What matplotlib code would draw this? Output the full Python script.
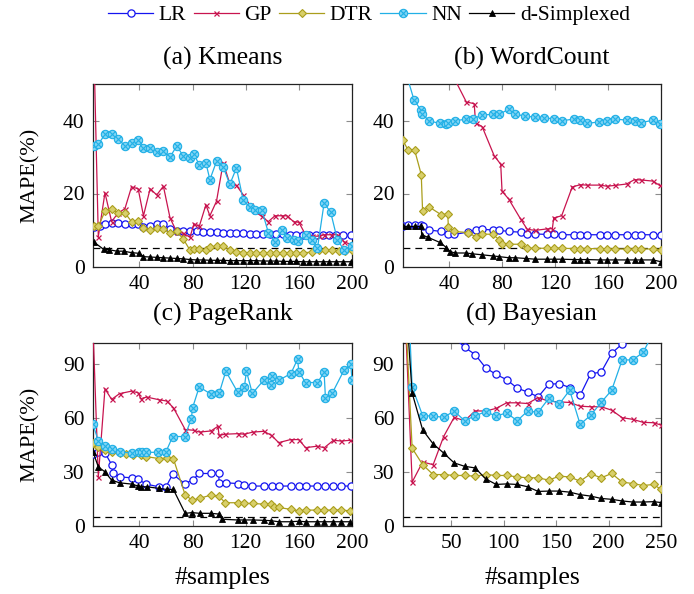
import matplotlib
matplotlib.use("Agg")
import matplotlib.pyplot as plt
from matplotlib.path import Path
import numpy as np

plt.rcParams['font.family'] = ['Liberation Serif', 'DejaVu Serif']
plt.rcParams['mathtext.fontset'] = 'stix'

# ---------------- data ----------------
series_names = ["LR", "GP", "DTR", "NN", "d-Simplexed"]
titles = ["(a) Kmeans", "(b) WordCount", "(c) PageRank", "(d) Bayesian"]

# (a) Kmeans
a_LR_x = [6, 10, 14, 19, 24, 29, 34, 39, 43, 48, 53, 58, 63, 68, 73, 78, 83, 88, 93, 98,
          103, 108, 113, 118, 123, 128, 133, 138, 143, 148, 153, 158, 163, 168, 173, 178, 183, 188, 193, 199]
a_LR_y = [10.8, 11.0, 11.7, 11.9, 11.9, 11.6, 11.6, 11.6, 10.9, 11.0, 11.6, 11.6, 10.2, 9.6, 9.6, 9.6, 9.6, 9.5, 9.4, 9.4,
          9.3, 9.3, 9.2, 9.1, 9.0, 9.0, 8.9, 8.9, 8.8, 8.8, 8.7, 8.7, 8.7, 8.7, 8.6, 8.6, 8.6, 8.6, 8.5, 8.5]
a_GP_x = [5, 9, 14, 19, 24, 29, 34, 39, 43, 48, 53, 58, 63, 68, 73, 78, 81, 85, 90, 93,
          98, 103, 108, 113, 118, 123, 127, 132, 137, 142, 147, 151, 156, 160, 165, 170, 175, 179, 184, 189, 194, 200]
a_GP_y = [70, 8.2, 20.2, 12.3, 14.7, 15.8, 21.8, 21.3, 13.9, 21.3, 19.6, 22.0, 13.3, 9.5, 9.1, 8.0, 11.7, 11.0, 16.9, 13.9,
          17.9, 28.4, 22.7, 22.2, 19.7, 16.9, 15.1, 13.7, 12.3, 13.9, 13.9, 13.9, 12.3, 12.1, 8.7, 8.3, 8.3, 8.7, 8.7, 8.7, 6.8, 5.9]
a_DTR_x = [6, 9, 14, 19, 24, 29, 34, 39, 43, 48, 53, 58, 63, 68, 73, 78, 81, 85, 90, 93,
           98, 103, 108, 113, 118, 123, 128, 133, 138, 143, 148, 153, 158, 163, 170, 175, 180, 185, 190, 195, 200]
a_DTR_y = [11.0, 11.0, 15.1, 15.7, 14.7, 14.7, 12.3, 12.6, 10.5, 10.1, 10.5, 10.3, 9.1, 9.6, 7.5, 4.5, 4.7, 4.7, 4.5, 5.3,
           5.6, 5.7, 4.4, 4.1, 3.8, 3.8, 3.8, 3.8, 3.8, 3.8, 3.8, 3.8, 3.8, 3.8, 3.9, 4.4, 4.4, 4.4, 4.3, 4.3, 4.4]
a_NN_x = [6, 9, 14, 19, 24, 29, 34, 39, 43, 48, 53, 58, 63, 68, 73, 78, 81, 85, 90, 93,
          98, 103, 108, 113, 118, 123, 127, 132, 137, 142, 147, 151, 156, 159, 165, 170, 174, 179, 184, 189, 194, 200]
a_NN_y = [33.0, 33.5, 36.2, 36.4, 35.0, 33.0, 33.9, 34.7, 32.4, 32.5, 31.5, 31.7, 30.0, 33.0, 30.3, 29.8, 30.7, 27.9, 28.4, 23.8,
          28.8, 27.3, 22.5, 27.0, 18.3, 16.2, 15.6, 15.6, 9.3, 6.7, 9.9, 7.8, 7.3, 6.9, 8.7, 7.3, 5.0, 17.4, 14.8, 7.3, 4.5, 5.6]
a_DS_x = [6, 13, 17, 23, 28, 34, 40, 43, 48, 53, 58, 63, 68, 73, 78, 83, 88, 93, 98, 103,
          108, 113, 118, 123, 128, 133, 138, 143, 148, 153, 158, 163, 168, 173, 178, 183, 188, 193, 199]
a_DS_y = [6.6, 4.7, 4.6, 4.2, 4.2, 3.8, 3.6, 2.7, 2.6, 2.5, 2.4, 2.3, 2.2, 2.1, 1.9, 1.8, 1.8, 1.7, 1.7, 1.7,
          1.6, 1.6, 1.6, 1.6, 1.6, 1.5, 1.5, 1.5, 1.4, 1.4, 1.4, 1.3, 1.3, 1.3, 1.3, 1.3, 1.3, 1.3, 1.3]

# (b) WordCount
b_LR_x = [5, 9, 14, 19, 20, 25, 34, 39, 44, 54, 60, 65, 73, 78, 85, 94, 99, 105, 114, 119,
          125, 134, 139, 144, 154, 159, 165, 174, 180, 185, 194, 200]
b_LR_y = [11.2, 11.5, 11.5, 11.5, 11.2, 10.0, 9.6, 8.8, 8.8, 9.4, 10.0, 10.2, 10.0, 9.9, 9.6, 9.4, 9.0, 8.9, 8.8, 8.8,
          8.7, 8.7, 8.7, 8.7, 8.7, 8.7, 8.7, 8.7, 8.7, 8.7, 8.7, 8.7]
b_GP_x = [5, 20, 35, 44, 53, 59, 60, 65, 74, 79, 80, 85, 94, 99, 105, 114, 118, 119, 125, 133,
          139, 144, 154, 159, 165, 174, 180, 185, 194, 199]
b_GP_y = [68, 62, 56, 51.5, 45.1, 44.6, 39.4, 38.3, 30.4, 28.0, 20.6, 18.5, 13.0, 10.2, 9.9, 10.3, 10.4, 13.3, 13.9, 21.8,
          22.4, 22.3, 22.3, 22.0, 22.2, 22.6, 23.8, 23.7, 23.4, 22.2]
b_DTR_x = [5, 9, 14, 19, 20, 25, 34, 39, 39.5, 44, 54, 60, 65, 73, 78, 80, 85, 94, 99, 105,
           114, 119, 125, 134, 139, 144, 154, 159, 165, 174, 180, 185, 194, 200]
b_DTR_y = [34.7, 31.9, 31.9, 25.2, 15.3, 16.3, 14.2, 14.4, 10.8, 9.6, 9.3, 8.2, 8.9, 8.8, 7.3, 6.1, 6.1, 6.1, 5.0, 5.0,
           5.0, 5.0, 5.0, 4.9, 4.9, 4.9, 4.9, 4.8, 4.8, 4.8, 4.8, 4.8, 4.8, 4.6]
b_NN_x = [5, 13.5, 18.6, 19.3, 25, 33, 38, 39.5, 44.5, 53, 58, 65, 73, 78, 85, 90, 97, 105, 112, 119,
          125, 134, 139, 144, 153, 159, 165, 174, 180, 185, 194, 199]
b_NN_y = [56, 45.7, 42.9, 41.9, 39.9, 39.2, 39.0, 39.4, 39.9, 40.4, 40.5, 41.5, 41.7, 41.7, 43.1, 41.9, 41.1, 41.0, 40.8, 40.4,
          39.9, 40.4, 40.2, 39.2, 39.6, 39.8, 40.4, 40.1, 39.9, 39.4, 40.1, 39.0]
b_DS_x = [5, 9, 14, 19, 19.3, 24, 33, 38, 40.7, 44.5, 53, 57, 65, 73, 78, 85, 90, 98, 105, 114,
          119, 125, 134, 139, 144, 154, 159, 165, 174, 180, 185, 194, 200]
b_DS_y = [11.0, 11.0, 11.0, 11.0, 8.7, 8.0, 6.6, 5.2, 4.1, 3.7, 3.7, 3.5, 3.2, 2.9, 2.7, 2.4, 2.4, 2.2, 2.0, 2.0,
          2.0, 2.0, 1.9, 1.9, 1.9, 1.8, 1.8, 1.8, 1.8, 1.8, 1.8, 1.8, 1.3]

# (c) PageRank
c_LR_x = [5, 9, 14, 19, 20, 25, 34, 39, 45, 54.5, 60, 65, 74, 80, 85, 94, 99.6, 100, 105, 114,
          119, 125, 134, 140, 145, 154, 160, 165, 174, 180, 186, 192, 199]
c_LR_y = [40.2, 41.1, 40.6, 34.1, 29.5, 27.2, 26.7, 25.8, 23.2, 21.7, 21.7, 28.7, 23.5, 25.4, 29.1, 29.1, 29.1, 23.9, 23.9, 23.5,
          22.6, 22.1, 22.1, 22.1, 22.1, 22.1, 22.1, 22.1, 22.1, 22.1, 22.1, 22.1, 22.1]
c_GP_x = [5, 9, 14, 19, 25, 34, 39, 41, 45.5, 54.7, 60.5, 65.5, 74.4, 80.7, 85.2, 93.8, 99.1, 99.9, 104.6, 113.9,
          118.9, 125.5, 133.5, 139.3, 144.8, 153.7, 160, 165, 173.7, 179.2, 186, 192, 198.5]
c_GP_y = [110, 27.2, 76.3, 70.4, 73.6, 75.0, 74.1, 70.8, 71.7, 70.2, 69.5, 65.8, 53.6, 53.2, 52.2, 52.8, 55.4, 50.4, 51.0, 51.3,
          51.0, 52.2, 52.6, 50.4, 46.3, 48.0, 48.0, 43.5, 44.3, 43.5, 47.6, 47.2, 47.6]
c_DTR_x = [5, 9, 14, 19, 25, 30, 35, 41, 45, 55, 60.5, 65.5, 74.4, 79.6, 85.2, 93.8, 99.6, 104.6, 113.9, 118.9,
           125.5, 133.5, 139, 141, 144.8, 153.7, 160, 165, 173.8, 179, 186, 192, 198.5]
c_DTR_y = [46, 44, 42, 41, 40.5, 40, 39.5, 39.3, 38.5, 37.4, 37.8, 37.4, 17.1, 14.3, 15.2, 17.1, 16.5, 12.8, 12.8, 12.4,
           12.4, 12.0, 12.0, 10.6, 10.2, 9.1, 8.3, 8.7, 8.7, 8.7, 8.7, 8.7, 8.3]
c_NN_x = [5, 9, 14, 19, 25, 34, 40, 42, 45, 54, 60, 65, 74, 79, 80, 85, 94, 99.6, 100, 105,
          114, 119, 120.5, 125, 133.5, 139, 140, 145, 154, 159, 160, 165, 174, 179, 180, 185, 194, 199, 200]
c_NN_y = [56.5, 47.2, 44.7, 42.8, 41.3, 40.4, 40.9, 40.9, 40.9, 40.9, 41.3, 49.7, 49.7, 59.4, 65.8, 77.4, 73.2, 73.8, 73.8, 86.1,
          74.3, 77.4, 86.1, 73.7, 81.1, 78.3, 83.5, 81.1, 84.8, 92.8, 85.8, 79.8, 79.8, 85.4, 71.3, 73.7, 86.7, 90.4, 81.1]
c_DS_x = [5, 9, 14, 19, 25, 34, 39, 41, 45.5, 54.7, 60.5, 65.5, 74.4, 79.6, 85.2, 93.8, 99.6, 102, 113.9, 118.9,
          125.5, 133.5, 139, 144.8, 153.7, 160, 165, 173.8, 179, 186, 192, 198.5]
c_DS_y = [41.1, 32.8, 30.0, 25.4, 23.9, 23.2, 22.1, 21.7, 21.7, 20.8, 20.2, 20.2, 6.9, 7.3, 6.9, 6.9, 6.5, 3.6, 3.2, 3.2,
          3.2, 3.0, 2.8, 2.2, 2.2, 2.5, 2.2, 2.2, 2.2, 2.2, 2.2, 2.2]

# (d) Bayesian
d_x = [4, 13, 23, 33, 43, 53, 63, 73, 83, 93, 103, 113, 123, 133, 143, 153, 163, 173, 183, 193,
       203, 213, 223, 233, 243, 250]
d_LR_y = [400, 160, 140, 125, 114, 105, 99.4, 95.4, 88.0, 84.3, 81.4, 76.7, 74.5, 71.8, 78.8, 79.2, 77.0, 72.7, 84.7, 85.6,
          96.1, 101.3, 110, 118, 126, 130]
d_GP_y = [150, 24.3, 35.5, 34.0, 49.7, 60.4, 58.5, 64.0, 63.9, 65.4, 68.5, 68.5, 68.1, 71.4, 69.4, 69.0, 68.7, 66.6, 66.3, 66.3,
          64.4, 60.2, 59.3, 57.6, 57.4, 56.1]
d_DTR_y = [150, 43.2, 34.0, 28.5, 28.5, 28.0, 28.0, 27.6, 28.5, 28.0, 28.0, 27.2, 26.7, 26.7, 25.4, 27.6, 27.2, 24.8, 28.9, 26.7,
           29.1, 24.3, 23.5, 22.4, 23.0, 20.2]
d_NN_y = [200, 77.3, 61.3, 61.1, 60.4, 63.9, 58.5, 61.3, 63.5, 61.1, 62.9, 58.5, 63.9, 63.2, 70.9, 67.7, 75.5, 56.5, 61.5, 68.7,
          75.5, 92.4, 92.4, 96.6, 108, 115]
d_DS_y = [150, 74.0, 53.4, 45.6, 40.5, 35.0, 33.1, 32.2, 26.1, 23.0, 23.3, 23.0, 21.7, 19.1, 19.3, 19.3, 18.7, 17.3, 16.5, 15.2,
          14.7, 13.8, 13.2, 13.2, 13.4, 12.9]

threshold = 5

x_ticks_ac = [40, 80, 120, 160, 200]
x_ticks_d = [50, 100, 150, 200, 250]
y_ticks_ab = [0, 20, 40]
y_ticks_cd = [0, 30, 60, 90]

# ---------------- styles ----------------
c_LR = '#1414f0'
c_GP = '#c8144f'
c_DTR = '#aa9e1c'
c_NN = '#22b0e6'
c_DS = '#000000'

circ = Path.unit_circle()
cross = Path([(-0.72, -0.72), (0.72, 0.72), (-0.72, 0.72), (0.72, -0.72)],
             [Path.MOVETO, Path.LINETO, Path.MOVETO, Path.LINETO])
otimes = Path.make_compound_path(circ, cross)

styles = {
    "LR": dict(color=c_LR, marker='o', ms=5.2, mfc='white', mec=c_LR, mew=0.9, lw=0.9),
    "GP": dict(color=c_GP, marker='x', ms=3.6, mec=c_GP, mew=0.9, lw=0.9),
    "DTR": dict(color=c_DTR, marker='D', ms=3.6, mfc='#d8cf6a', mec=c_DTR, mew=0.8, lw=0.9),
    "NN": dict(color=c_NN, marker=otimes, ms=6.0, mfc='#7fd4f4', mec=c_NN, mew=0.8, lw=0.9),
    "d-Simplexed": dict(color=c_DS, marker='^', ms=4.0, mfc=c_DS, mec=c_DS, mew=0.6, lw=0.9),
}

W, H = 694, 594
fig = plt.figure(figsize=(W / 100, H / 100), dpi=100)

def ax_at(l, t, r, b):
    return fig.add_axes([l / W, 1 - b / H, (r - l) / W, (b - t) / H])

ax_a = ax_at(93, 84, 352, 266.5)
ax_b = ax_at(402.7, 84, 661, 266.5)
ax_c = ax_at(93, 342.7, 352, 525.7)
ax_d = ax_at(402.7, 342.7, 661, 525.7)

panels = [
    (ax_a, [(a_LR_x, a_LR_y), (a_GP_x, a_GP_y), (a_DTR_x, a_DTR_y), (a_NN_x, a_NN_y), (a_DS_x, a_DS_y)],
     (5, 200), (0, 50), x_ticks_ac, y_ticks_ab),
    (ax_b, [(b_LR_x, b_LR_y), (b_GP_x, b_GP_y), (b_DTR_x, b_DTR_y), (b_NN_x, b_NN_y), (b_DS_x, b_DS_y)],
     (5, 200), (0, 50), x_ticks_ac, y_ticks_ab),
    (ax_c, [(c_LR_x, c_LR_y), (c_GP_x, c_GP_y), (c_DTR_x, c_DTR_y), (c_NN_x, c_NN_y), (c_DS_x, c_DS_y)],
     (5, 200), (0, 102), x_ticks_ac, y_ticks_cd),
    (ax_d, [(d_x, d_LR_y), (d_x, d_GP_y), (d_x, d_DTR_y), (d_x, d_NN_y), (d_x, d_DS_y)],
     (4, 250), (0, 102), x_ticks_d, y_ticks_cd),
]

FS_TICK = 15.5
handles = []
for i, (ax, data, xl, yl, xt, yt) in enumerate(panels):
    ax.axhline(threshold, color='black', lw=0.9, ls=(0, (5.5, 4)), zorder=1)
    for name, (xs, ys) in zip(series_names, data):
        assert len(xs) == len(ys), (i, name)
        ln, = ax.plot(xs, ys, label=name, zorder=3, **styles[name])
        if i == 0:
            handles.append(ln)
    ax.set_xlim(*xl)
    ax.set_ylim(*yl)
    ax.set_xticks(xt)
    ax.set_yticks(yt)
    ax.tick_params(direction='in', top=True, right=True, length=4.5, width=0.8,
                   color='#8c8c8c', labelsize=FS_TICK, pad=6)
    for s in ax.spines.values():
        s.set_linewidth(0.9)
        s.set_color('#222222')

title_pos = [(222.5, 58), (531.9, 58), (222.5, 314), (531.9, 314)]
for t, (cx, cy) in zip(titles, title_pos):
    fig.text(cx / W, 1 - cy / H, t, ha='center', va='center', fontsize=18.5)

for cy in [175, 434]:
    fig.text(30 / W, 1 - cy / H, "MAPE(%)", rotation=90, ha='center', va='center', fontsize=16)
for cx in [222.5, 531.9]:
    fig.text(cx / W, 1 - 578 / H, "#samples", ha='center', va='center', fontsize=18.5)

fig.legend(handles=handles, labels=series_names, loc='center', bbox_to_anchor=(369 / W, 1 - 15 / H),
           ncol=5, frameon=False, fontsize=15.5, handlelength=2.1, handletextpad=0.25,
           columnspacing=0.35, borderaxespad=0)

fig.savefig("out.png", dpi=100)
